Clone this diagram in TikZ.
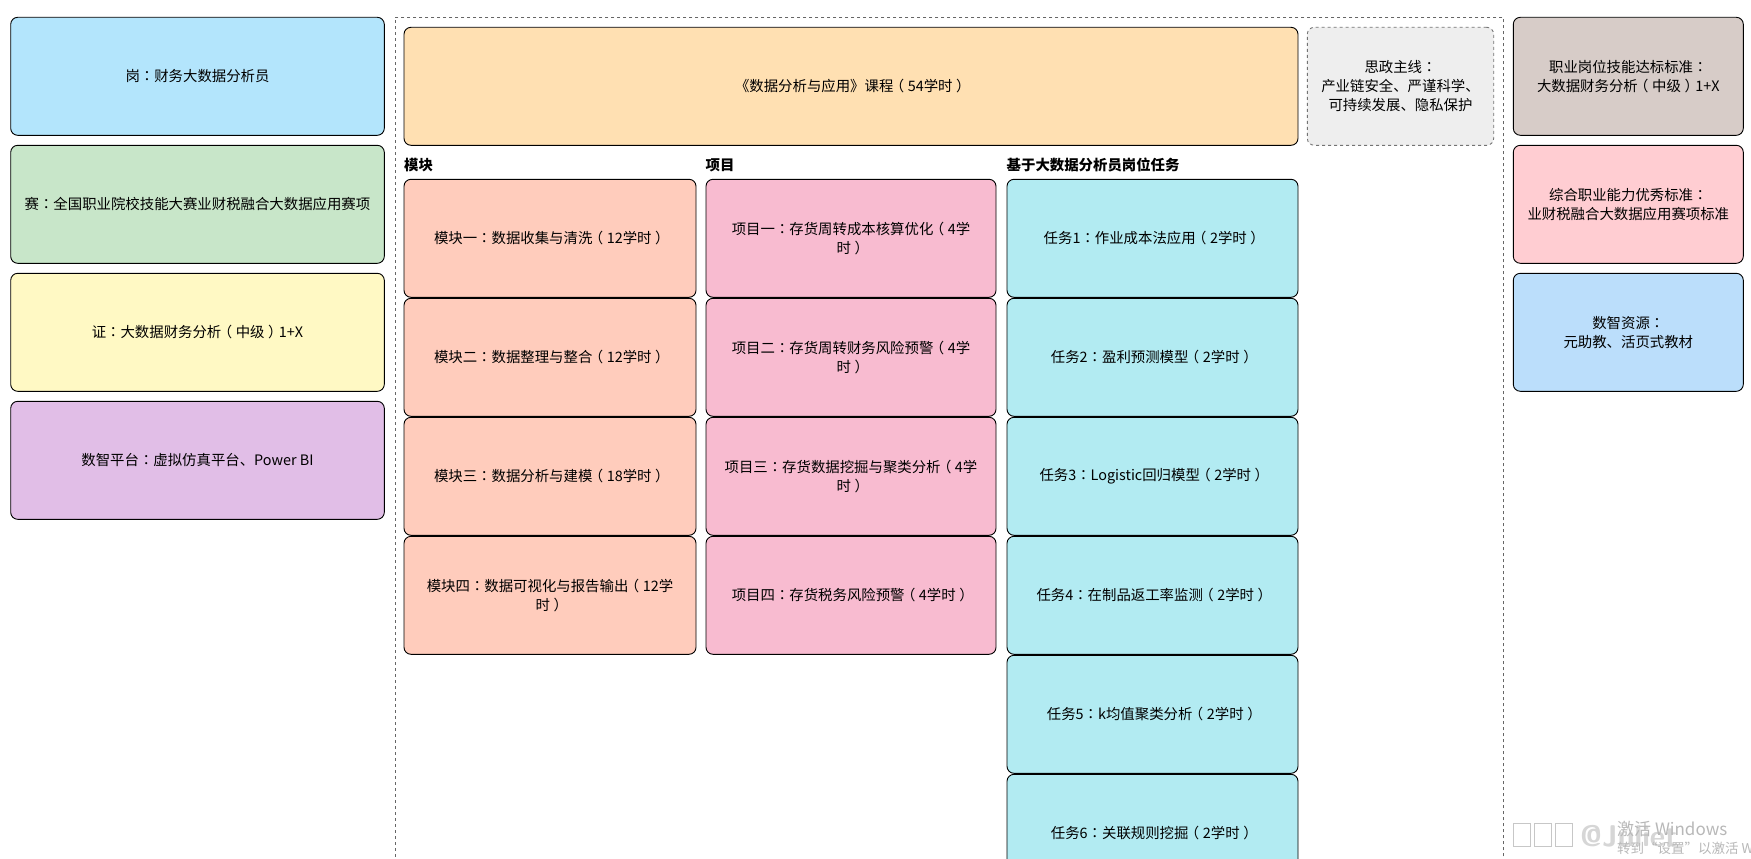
\documentclass[tikz,border=0pt]{standalone}
\usepackage{fontspec}
\newfontfamily\cjk{Noto Sans CJK SC}
\newfontfamily\cjktc{Noto Sans CJK TC}
\newcommand\zcolon{{\cjktc ：}}
\newcommand\zlp{\kern-0.25em（\kern0.25em}
\newcommand\zrp{\kern0.25em）\kern-0.25em}
\begin{document}
\begin{tikzpicture}[x=1pt,y=-1pt,
  box/.style={draw=black, line width=0.9pt, rounded corners=7pt, inner sep=0pt,
    minimum height=118pt, align=center, font=\cjk\fontsize{14.4}{19}\selectfont, text=black},
  lbox/.style={box, minimum width=373.6pt},
  rbox/.style={box, minimum width=230pt},
  mbox/.style={box, minimum width=292pt, fill=modc},
  pbox/.style={box, minimum width=290pt, fill=proc},
  tbox/.style={box, minimum width=291pt, fill=tasc},
  head/.style={anchor=west, inner sep=0pt, font=\cjk\bfseries\fontsize{14.4}{19}\selectfont},
  wm/.style={inner sep=0pt, anchor=west, text=black!28, font=\cjk\fontsize{17}{18}\selectfont},
  tofu/.style={draw=black!22, line width=1pt}
]
\definecolor{c1}{HTML}{B3E5FC}
\definecolor{c2}{HTML}{C8E6C9}
\definecolor{c3}{HTML}{FFF9C4}
\definecolor{c4}{HTML}{E1BEE7}
\definecolor{coursec}{HTML}{FFE0B2}
\definecolor{modc}{HTML}{FFCCBC}
\definecolor{proc}{HTML}{F8BBD0}
\definecolor{tasc}{HTML}{B2EBF2}
\definecolor{r1}{HTML}{D7CCC8}
\definecolor{r2}{HTML}{FFCDD2}
\definecolor{r3}{HTML}{BBDEFB}
\definecolor{sizc}{HTML}{EEEEEE}
\useasboundingbox (0,0) rectangle (1751,859);
\clip (0,0) rectangle (1751,859);
\fill[white] (0,0) rectangle (1751,859);

% left column
\node[lbox, fill=c1] (gang) at (197.5,76.3) {岗\zcolon 财务大数据分析员};
\node[lbox, fill=c2] (sai) at (197.5,204.3) {赛\zcolon 全国职业院校技能大赛业财税融合大数据应用赛项};
\node[lbox, fill=c3] (zheng) at (197.5,332.3) {证\zcolon 大数据财务分析\zlp 中级\zrp 1+X};
\node[lbox, fill=c4] (pingtai) at (197.5,460.3) {数智平台\zcolon 虚拟仿真平台、Power BI};

% container
\node[draw=black!60, dashed, line width=0.7pt, inner sep=0pt, minimum width=1108.8pt, minimum height=900pt, anchor=north west] (cont) at (394.5,17.3) {};

\node[box, fill=coursec, minimum width=894pt] (course) at (851,86.3) {《数据分析与应用》课程\zlp 54学时\zrp};
\node[box, fill=sizc, draw=black!55, dashed, minimum width=186.4pt] (siz) at (1400.5,86.3) {思政主线\zcolon\\产业链安全、严谨科学、\\可持续发展、隐私保护};

\node[head] (hm) at (404,165) {模块};
\node[head] (hp) at (705.5,165) {项目};
\node[head] (ht) at (1006.5,165) {基于大数据分析员岗位任务};

% modules
\node[mbox] (m1) at (550,238.3) {模块一\zcolon 数据收集与清洗\zlp 12学时\zrp};
\node[mbox] (m2) at (550,357.3) {模块二\zcolon 数据整理与整合\zlp 12学时\zrp};
\node[mbox] (m3) at (550,476.3) {模块三\zcolon 数据分析与建模\zlp 18学时\zrp};
\node[mbox] (m4) at (550,595.3) {模块四\zcolon 数据可视化与报告输出\zlp 12学\\时\zrp};

% projects
\node[pbox] (p1) at (851,238.3) {项目一\zcolon 存货周转成本核算优化\zlp 4学\\时\zrp};
\node[pbox] (p2) at (851,357.3) {项目二\zcolon 存货周转财务风险预警\zlp 4学\\时\zrp};
\node[pbox] (p3) at (851,476.3) {项目三\zcolon 存货数据挖掘与聚类分析\zlp 4学\\时\zrp};
\node[pbox] (p4) at (851,595.3) {项目四\zcolon 存货税务风险预警\zlp 4学时\zrp};

% tasks
\node[tbox] (t1) at (1152.5,238.3) {任务1\zcolon 作业成本法应用\zlp 2学时\zrp};
\node[tbox] (t2) at (1152.5,357.3) {任务2\zcolon 盈利预测模型\zlp 2学时\zrp};
\node[tbox] (t3) at (1152.5,476.3) {任务3\zcolon Logistic回归模型\zlp 2学时\zrp};
\node[tbox] (t4) at (1152.5,595.3) {任务4\zcolon 在制品返工率监测\zlp 2学时\zrp};
\node[tbox] (t5) at (1152.5,714.3) {任务5\zcolon k均值聚类分析\zlp 2学时\zrp};
\node[tbox] (t6) at (1152.5,833.3) {任务6\zcolon 关联规则挖掘\zlp 2学时\zrp};

% right column
\node[rbox, fill=r1] (std1) at (1628.3,76.3) {职业岗位技能达标标准\zcolon\\大数据财务分析\zlp 中级\zrp 1+X};
\node[rbox, fill=r2] (std2) at (1628.3,204.3) {综合职业能力优秀标准\zcolon\\业财税融合大数据应用赛项标准};
\node[rbox, fill=r3] (res) at (1628.3,332.3) {数智资源\zcolon\\元助教、活页式教材};

% watermark (screen overlay)
\draw[tofu] (1513,823) rectangle (1530,846);
\draw[tofu] (1534,823) rectangle (1551,846);
\draw[tofu] (1555,823) rectangle (1572,846);
\node[inner sep=0pt, anchor=west, text=black!16, font=\sffamily\bfseries\fontsize{30}{32}\selectfont] (wj) at (1580,836) {@Juliet};
\node[wm] (w1) at (1617,829) {激活 Windows};
\node[wm, font=\cjk\fontsize{13.5}{15}\selectfont] (w2) at (1617,848) {转到“设置”以激活 W};
\end{tikzpicture}
\end{document}
